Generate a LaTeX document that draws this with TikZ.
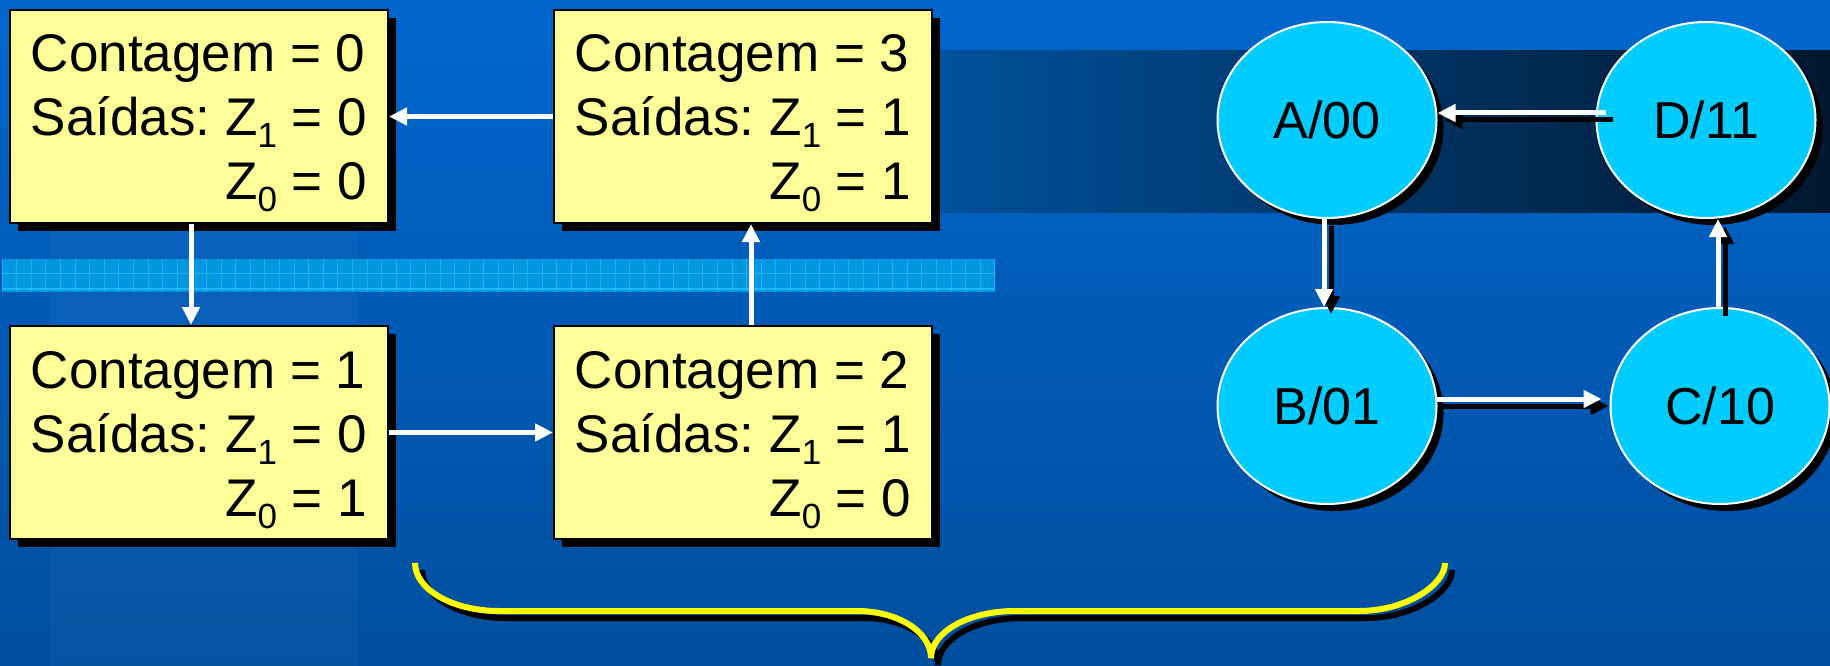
\documentclass[tikz,border=0pt]{standalone}
\usepackage{fontspec}
\setmainfont{Liberation Sans}
\usetikzlibrary{arrows.meta,shapes.geometric,shadows,calc}
\definecolor{bgtop}{HTML}{0066CC}
\definecolor{bgbot}{HTML}{004E9D}
\definecolor{boxfill}{HTML}{FFFF99}
\definecolor{circfill}{HTML}{00CCFF}
\definecolor{gridband}{HTML}{0096E0}
\definecolor{gridline}{HTML}{33CCFF}
\definecolor{darkL}{HTML}{00519C}
\definecolor{darkR}{HTML}{00172E}
\definecolor{braceyellow}{HTML}{FFFF00}
\frenchspacing
\newcommand\zsub[1]{\raisebox{-12pt}{\fontsize{35}{35}\selectfont #1}}
\newcommand\cnt[3]{\begin{tabular}[t]{@{}l@{}}Contagem = #1\\Saídas: Z\zsub{1} = #2\\\hfill Z\zsub{0} = #3\end{tabular}}
\tikzset{
 cbox/.style={draw=black,line width=2pt,fill=boxfill,inner sep=0pt,minimum width=378pt,
   text height=62pt,text depth=151pt,anchor=north west,font=\fontsize{53}{64}\selectfont,
   drop shadow={shadow xshift=8pt,shadow yshift=-8pt,opacity=1,fill=black}},
 state/.style={ellipse,draw=white,line width=2pt,fill=circfill,minimum width=219pt,
   minimum height=196pt,inner sep=0pt,text height=37pt,text depth=-10pt,
   font=\fontsize{52}{62}\selectfont,
   drop shadow={shadow xshift=7pt,shadow yshift=-7pt,opacity=1,fill=black}},
 warr/.style={white,line width=5pt,-{Triangle[length=18pt,width=17pt]}},
 sarr/.style={black,line width=5pt,-{Triangle[length=18pt,width=17pt]},
   transform canvas={xshift=7pt,yshift=-7pt}},
 bracepath/.style={line width=6pt}
}
\begin{document}
\begin{tikzpicture}[x=1pt,y=-1pt]
\useasboundingbox (0,0) rectangle (1830,666);
% background
\fill[top color=bgtop,bottom color=bgbot] (0,0) rectangle (1830,666);
\fill[white,opacity=0.03] (50,225) rectangle (357,666);
\fill[left color=darkL,right color=darkR] (932,51) rectangle (1830,212);
% grid band
\fill[gridband] (2,259) rectangle (995,292);
\foreach \x in {2,16.6,...,995} \draw[gridline,opacity=0.5,line width=1pt] (\x,259) -- (\x,292);
\draw[gridline,opacity=0.6,line width=1.2pt] (2,273.5) -- (995,273.5) (2,289) -- (995,289);
% boxes
\node[cbox] (b0) at (9,9) {\cnt{0}{0}{0}};
\node[cbox] (b3) at (553,9) {\cnt{3}{1}{1}};
\node[cbox] (b1) at (9,325) {\cnt{1}{0}{1}};
\node[cbox] (b2) at (553,325) {\cnt{2}{1}{0}};
\draw[warr] (b3.west) -- (b0.east);
\draw[warr] ($(b0.south)+(-8,0)$) -- ($(b1.north)+(-8,0)$);
\draw[warr] (b1.east) -- (b2.west);
\draw[warr] ($(b2.north)+(8,0)$) -- ($(b3.south)+(8,0)$);
% states
\node[state] (A) at (1327,120) {A/00};
\node[state] (D) at (1706,120) {D/11};
\node[state] (B) at (1327,406) {B/01};
\node[state] (C) at (1720,406) {C/10};
\draw[sarr] ($(D.west)+(10,-7)$) -- ($(A.east)+(0,-7)$);
\draw[warr] ($(D.west)+(10,-7)$) -- ($(A.east)+(0,-7)$);
\draw[sarr] ($(A.south)+(-3,0)$) -- ($(B.north)+(-3,0)$);
\draw[warr] ($(A.south)+(-3,0)$) -- ($(B.north)+(-3,0)$);
\draw[sarr] ($(B.east)+(-2,-7)$) -- ($(C.west)+(-8,-7)$);
\draw[warr] ($(B.east)+(-2,-7)$) -- ($(C.west)+(-8,-7)$);
\draw[sarr] ($(C.north)+(-2,2)$) -- ($(D.south)+(12,0)$);
\draw[warr] ($(C.north)+(-2,2)$) -- ($(D.south)+(12,0)$);
% brace
\foreach \col/\sh in {black/7pt,braceyellow/0pt}
 \draw[bracepath,\col,transform canvas={xshift=\sh,yshift=-\sh}]
  (415,563) .. controls (415,589.5) and (452.6,611) .. (499,611) -- (857,611)
  .. controls (898,611) and (931,632) .. (931,658)
  .. controls (931,632) and (968.6,611) .. (1015,611) -- (1359,611)
  .. controls (1406.5,611) and (1445,584.5) .. (1445,563);
\end{tikzpicture}
\end{document}
